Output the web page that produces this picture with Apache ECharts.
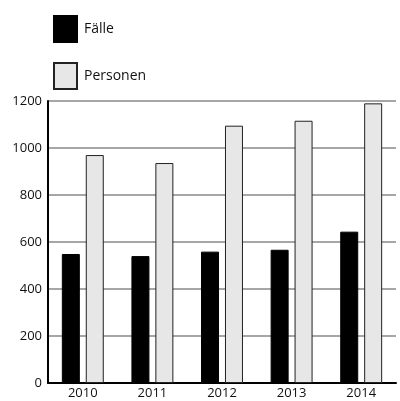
<!DOCTYPE html>
<html>
<head>
<meta charset="utf-8">
<script src="https://cdn.jsdelivr.net/npm/echarts@6/dist/echarts.min.js"></script>
<style>
  html, body { margin: 0; padding: 0; background: #fff; }
  #chart { width: 400px; height: 401px; }
</style>
</head>
<body>
<div id="chart"></div>
<script>
const years = ['2010', '2011', '2012', '2013', '2014'];
const faelle = [549, 540, 559, 567, 644];
const personen = [970, 936, 1095, 1116, 1190];
const yTicks = [0, 200, 400, 600, 800, 1000, 1200];

let chart = echarts.init(document.getElementById('chart'));
let option = {
  animation: false,
  textStyle: { fontFamily: 'Open Sans', color: '#111' },
  legend: {
    orient: 'vertical',
    left: 48,
    top: 10,
    itemWidth: 23,
    itemHeight: 26,
    itemGap: 19,
    icon: 'rect',
    textStyle: { fontSize: 14, color: '#111', padding: [0, 0, 0, 2] },
    data: ['Fälle', 'Personen']
  },
  grid: { left: 48, right: 4, top: 101, bottom: 18, containLabel: false },
  xAxis: {
    type: 'category',
    data: years,
    axisLine: { lineStyle: { color: '#000', width: 2 } },
    axisTick: { show: false },
    axisLabel: { fontSize: 13, color: '#111', margin: 4 }
  },
  yAxis: {
    type: 'value',
    min: yTicks[0],
    max: yTicks[yTicks.length - 1],
    interval: 200,
    axisLine: { show: true, lineStyle: { color: '#000', width: 2 } },
    axisTick: { show: false },
    axisLabel: { fontSize: 13, color: '#111', margin: 6, formatter: v => String(v) },
    splitLine: { lineStyle: { color: '#a6a6a6', width: 2 } }
  },
  series: [
    {
      name: 'Fälle',
      type: 'bar',
      data: faelle,
      barWidth: 18,
      barGap: '33%',
      itemStyle: { color: '#000', borderColor: '#000', borderWidth: 1 }
    },
    {
      name: 'Personen',
      type: 'bar',
      data: personen,
      barWidth: 18,
      itemStyle: { color: '#e6e7e6', borderColor: '#222', borderWidth: 1 }
    }
  ]
};
chart.setOption(option);
</script>
</body>
</html>
